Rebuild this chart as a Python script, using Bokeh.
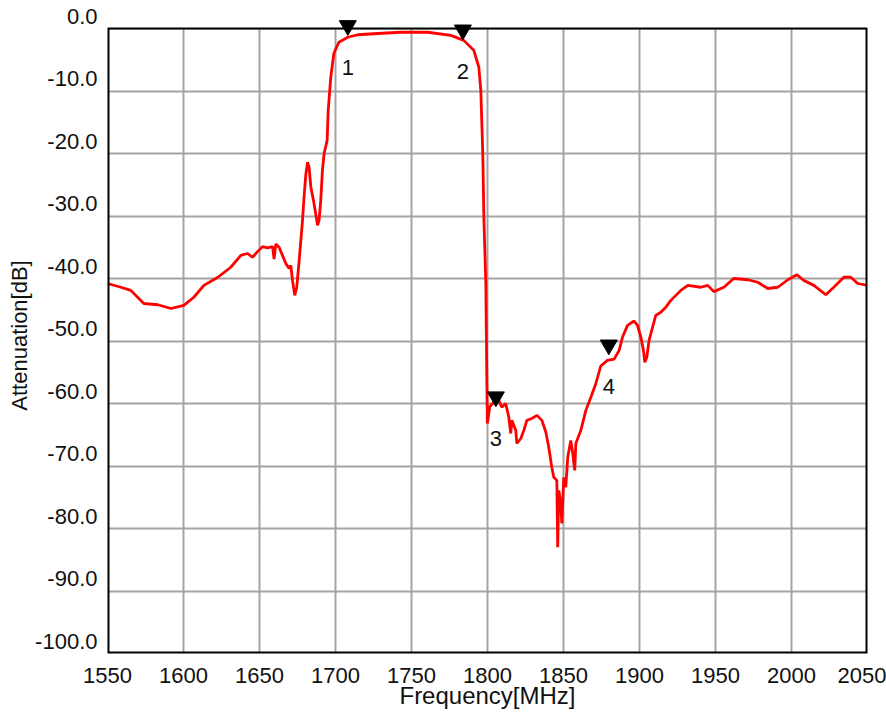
from bokeh.plotting import figure
from bokeh.models import Range1d, FixedTicker, ColumnDataSource
from bokeh.core.properties import value
from bokeh.embed import file_html
from bokeh.resources import INLINE

# ---- data ----
freq_mhz = [1550.0, 1558.8, 1565.3, 1573.9, 1583.1, 1591.7, 1600.2, 1606.8, 1613.4, 1622.6,
            1631.1, 1637.7, 1642.1, 1645.4, 1648.7, 1652.0, 1655.3, 1658.6, 1659.6, 1660.7,
            1662.9, 1665.1, 1667.3, 1669.5, 1670.6, 1671.7, 1673.2, 1674.5, 1676.1, 1677.2,
            1678.3, 1679.3, 1680.5, 1681.6, 1682.6, 1683.8, 1685.5, 1687.0, 1688.2, 1689.2,
            1690.3, 1691.4, 1692.5, 1694.5, 1695.2, 1696.9, 1698.9, 1702.2, 1708.1, 1714.7,
            1727.8, 1743.0, 1760.7, 1775.9, 1784.4, 1791.0, 1794.3, 1795.6, 1796.9, 1797.6,
            1798.9, 1799.5, 1799.9, 1801.5, 1804.1, 1807.4, 1809.4, 1812.0, 1814.0, 1815.3,
            1816.0, 1818.6, 1819.3, 1821.9, 1823.9, 1825.9, 1829.2, 1832.5, 1835.8, 1838.4,
            1840.3, 1842.3, 1843.6, 1845.6, 1846.2, 1846.9, 1848.2, 1848.9, 1850.2, 1851.5,
            1852.8, 1854.8, 1856.1, 1857.4, 1858.1, 1861.4, 1864.7, 1868.0, 1871.3, 1874.5,
            1878.9, 1883.3, 1886.6, 1888.8, 1892.1, 1896.4, 1898.7, 1900.9, 1902.6, 1903.5,
            1904.8, 1906.3, 1908.6, 1910.7, 1914.0, 1917.3, 1920.6, 1927.2, 1931.8, 1940.3,
            1944.9, 1948.9, 1955.5, 1962.0, 1971.3, 1977.8, 1984.4, 1991.0, 1997.6, 2003.5,
            2008.1, 2014.7, 2022.6, 2027.8, 2034.4, 2039.0, 2043.6, 2050.0]
atten_db = [-40.8, -41.4, -41.9, -44.0, -44.2, -44.8, -44.3, -43.0, -41.1, -39.8,
            -38.2, -36.3, -36.0, -36.6, -35.7, -34.9, -35.1, -34.9, -36.9, -34.5,
            -35.0, -36.3, -37.6, -38.4, -37.9, -40.3, -42.7, -41.4, -37.1, -33.9,
            -30.7, -27.0, -23.3, -21.4, -22.2, -25.4, -27.5, -29.7, -31.5, -30.7,
            -27.5, -22.7, -20.0, -17.9, -13.1, -7.8, -4.0, -2.2, -1.4, -1.0,
            -0.8, -0.6, -0.6, -1.1, -1.9, -3.5, -6.2, -9.9, -20.0, -30.2,
            -40.8, -54.7, -63.2, -60.5, -59.8, -59.5, -60.6, -60.0, -62.2, -64.8,
            -62.7, -64.3, -66.4, -65.6, -64.3, -62.7, -62.4, -61.9, -62.7, -64.6,
            -67.0, -70.2, -71.8, -72.3, -83.0, -73.9, -76.0, -79.2, -71.8, -73.4,
            -68.6, -65.9, -68.0, -70.7, -66.4, -64.3, -61.1, -59.0, -56.8, -54.0,
            -53.1, -52.9, -51.5, -49.4, -47.5, -46.8, -47.5, -49.4, -51.5, -53.4,
            -52.6, -49.9, -47.8, -45.9, -45.4, -44.6, -43.5, -41.9, -41.1, -41.4,
            -41.1, -42.1, -41.4, -40.0, -40.2, -40.6, -41.6, -41.4, -40.2, -39.4,
            -40.3, -41.1, -42.6, -41.4, -39.8, -39.8, -40.8, -41.1]

marker_ids = ["1", "2", "3", "4"]
marker_freq = [1708.1, 1783.8, 1805.5, 1879.8]
marker_db = [-1.1, -1.8, -60.5, -52.2]

x_ticks = [1550, 1600, 1650, 1700, 1750, 1800, 1850, 1900, 1950, 2000, 2050]
y_ticks = [0, -10, -20, -30, -40, -50, -60, -70, -80, -90, -100]

FONT = "Liberation Sans"
TXT = "#111111"
X0, X1 = 1550, 2050
Y0, Y1 = -100, 0
px_per_db = 625 / (Y1 - Y0)
pad_db = 11 / px_per_db          # room above the plot box so top markers are not cut

p = figure(width=886, height=715, output_backend="svg", toolbar_location=None,
           x_range=Range1d(X0, X1), y_range=Range1d(Y0, Y1 + pad_db),
           min_border_left=107, min_border_right=19, min_border_top=17, min_border_bottom=62)

p.background_fill_color = "white"
p.border_fill_color = "white"
p.outline_line_color = None

p.xaxis.ticker = FixedTicker(ticks=x_ticks)
p.yaxis.ticker = FixedTicker(ticks=y_ticks)
# y tick labels sit just above their grid lines (second empty line lifts them)
p.yaxis.major_label_overrides = {v: "%.1f\n" % v for v in y_ticks}
p.yaxis.major_label_text_line_height = 1.0

for ax in (p.xaxis[0], p.yaxis[0]):
    ax.axis_line_color = None
    ax.major_tick_line_color = None
    ax.minor_tick_line_color = None
    ax.major_tick_out = 0
    ax.major_tick_in = 0
    ax.minor_tick_out = 0
    ax.major_label_text_font = FONT
    ax.major_label_text_font_size = "22px"
    ax.major_label_text_color = TXT
    ax.axis_label_text_font = FONT
    ax.axis_label_text_font_style = "normal"
    ax.axis_label_text_color = TXT

p.xaxis.major_label_standoff = 14
p.yaxis.major_label_standoff = 10

p.yaxis.axis_label = "Attenuation[dB]"
p.yaxis.axis_label_text_font_size = "22px"
p.yaxis.axis_label_standoff = 0

p.xaxis.axis_label = "Frequency[MHz]"
p.xaxis.axis_label_text_font_size = "24px"
p.xaxis.axis_label_standoff = -4

p.xgrid.grid_line_color = "#a4a4a4"
p.ygrid.grid_line_color = "#a4a4a4"
p.xgrid.grid_line_width = 2
p.ygrid.grid_line_width = 2

# blank strip above the 0 dB line (hides grid lines there)
p.quad(left=[X0], right=[X1], bottom=[Y1], top=[Y1 + pad_db],
       fill_color="white", line_color=None)

p.line(freq_mhz, atten_db, line_color="#ff0000", line_width=2.8)

# plot box border (sides/bottom sit on the clipped frame edge, top is interior)
p.line([X0, X0, X1, X1], [Y1, Y0, Y0, Y1], line_color="black", line_width=4)
p.line([X0, X1], [Y1, Y1], line_color="black", line_width=2)

# markers: inverted triangle tip rests on the trace point
tri_size = 17
tip_shift_db = (tri_size / 2 * 3 ** 0.5 * 2 / 3) / px_per_db
src = ColumnDataSource(dict(x=marker_freq, y=marker_db,
                            yc=[v + tip_shift_db for v in marker_db], t=marker_ids))
p.scatter("x", "yc", source=src, marker="inverted_triangle", size=tri_size,
          fill_color="black", line_color="black")
p.text("x", "y", text="t", source=src, y_offset=32, text_align="center",
       text_baseline="middle", text_font=value(FONT), text_font_size="22px",
       text_color=TXT)

open("out.html", "w").write(file_html(p, INLINE))
